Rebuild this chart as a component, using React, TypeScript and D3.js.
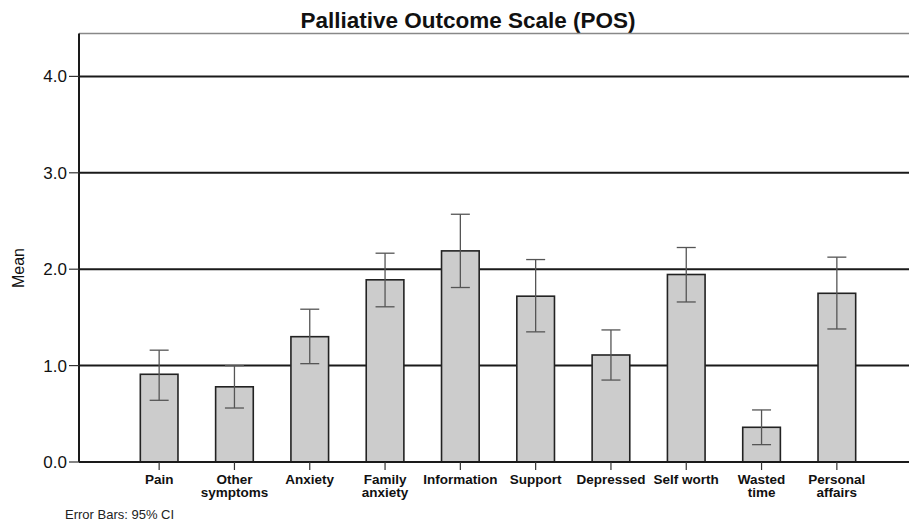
import React from "react";
import * as d3 from "d3";

// POS item means with 95% confidence intervals
const categories: string[][] = [
  ["Pain"],
  ["Other", "symptoms"],
  ["Anxiety"],
  ["Family", "anxiety"],
  ["Information"],
  ["Support"],
  ["Depressed"],
  ["Self worth"],
  ["Wasted", "time"],
  ["Personal", "affairs"],
];
const means = [0.91, 0.78, 1.3, 1.89, 2.19, 1.72, 1.11, 1.945, 0.36, 1.75];
const ciLow = [0.64, 0.56, 1.02, 1.61, 1.81, 1.35, 0.85, 1.66, 0.18, 1.38];
const ciHigh = [1.16, 1.0, 1.585, 2.166, 2.57, 2.1, 1.37, 2.225, 0.54, 2.125];
const yTicks = [0, 1, 2, 3, 4];

const W = 909;
const H = 523;
const plotLeft = 79;
const plotTop = 33.5;
const plotBottom = 462;
const plotRight = 909;

export default function App() {
  const keys = categories.map((c) => c.join(" "));
  const x = d3.scaleBand<string>().domain(keys).range([121.5, 874.5]).paddingInner(0.5).paddingOuter(0.25);
  const y = d3.scaleLinear().domain([0, 4.445]).range([plotBottom, plotTop]);
  const font = "Arial, 'Liberation Sans', Helvetica, sans-serif";
  const capHalf = 9.5;

  return (
    <svg
      width={W}
      height={H}
      style={{ position: "absolute", left: 0, top: 0, background: "#fff" }}
      fontFamily={font}
    >
      <rect x={0} y={0} width={W} height={H} fill="#fff" />
      <text x={468} y={28} textAnchor="middle" fontSize={22.5} fontWeight="bold" fill="#111">
        Palliative Outcome Scale (POS)
      </text>

      {/* frame top */}
      <line x1={plotLeft} x2={plotRight} y1={plotTop} y2={plotTop} stroke="#888" strokeWidth={1.5} />

      {/* gridlines */}
      {yTicks.filter((t) => t > 0).map((t) => (
        <line key={t} x1={plotLeft} x2={plotRight} y1={y(t)} y2={y(t)} stroke="#1a1a1a" strokeWidth={2} />
      ))}

      {/* bars */}
      {keys.map((k, i) => (
        <rect
          key={k}
          x={x(k)!}
          y={y(means[i])}
          width={x.bandwidth()}
          height={plotBottom - y(means[i])}
          fill="#cccccc"
          stroke="#222"
          strokeWidth={1.6}
        />
      ))}

      {/* error bars */}
      {keys.map((k, i) => {
        const cx = x(k)! + x.bandwidth() / 2;
        return (
          <g key={k} stroke="#555" strokeWidth={1.3}>
            <line x1={cx} x2={cx} y1={y(ciHigh[i])} y2={y(ciLow[i])} />
            <line x1={cx - capHalf} x2={cx + capHalf} y1={y(ciHigh[i])} y2={y(ciHigh[i])} />
            <line x1={cx - capHalf} x2={cx + capHalf} y1={y(ciLow[i])} y2={y(ciLow[i])} />
          </g>
        );
      })}

      {/* axes */}
      <line x1={plotLeft} x2={plotLeft} y1={plotTop} y2={plotBottom} stroke="#1a1a1a" strokeWidth={2} />
      <line x1={plotLeft} x2={plotRight} y1={plotBottom} y2={plotBottom} stroke="#1a1a1a" strokeWidth={2} />

      {yTicks.map((t) => (
        <g key={t}>
          <line x1={plotLeft - 10} x2={plotLeft} y1={y(t)} y2={y(t)} stroke="#333" strokeWidth={1.2} />
          <text x={67} y={y(t)} dy="0.35em" textAnchor="end" fontSize={17} fill="#111">
            {d3.format(".1f")(t)}
          </text>
        </g>
      ))}

      {keys.map((k, i) => {
        const cx = x(k)! + x.bandwidth() / 2;
        return (
          <g key={k}>
            <line x1={cx} x2={cx} y1={plotBottom} y2={plotBottom + 8} stroke="#333" strokeWidth={1.2} />
            <text x={cx} y={483.5} textAnchor="middle" fontSize={13.5} fontWeight="bold" fill="#111">
              {categories[i].map((line, j) => (
                <tspan key={j} x={cx} dy={j === 0 ? 0 : 13.5}>
                  {line}
                </tspan>
              ))}
            </text>
          </g>
        );
      })}

      <text
        transform={`translate(24,268) rotate(-90)`}
        textAnchor="middle"
        fontSize={16}
        fill="#111"
      >
        Mean
      </text>

      <text x={65} y={519} fontSize={13} fill="#222">
        Error Bars: 95% CI
      </text>
    </svg>
  );
}
